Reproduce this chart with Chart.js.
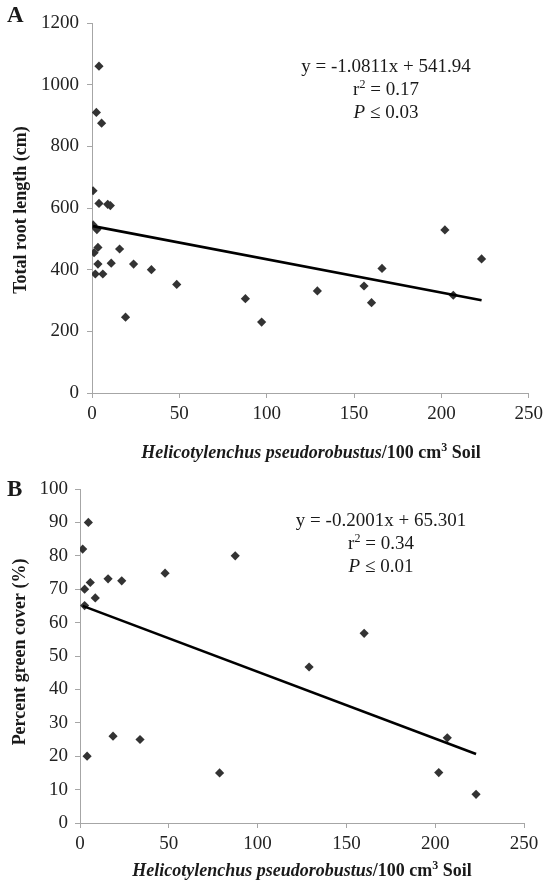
<!DOCTYPE html>
<html>
<head>
<meta charset="utf-8">
<script src="https://cdn.jsdelivr.net/npm/chart.js@4.4.1/dist/chart.umd.min.js"></script>
<style>
html, body { margin: 0; padding: 0; background: #fff; }
#boxA { position: relative; width: 548px; height: 462px; }
#boxB { position: relative; width: 548px; height: 426px; }
</style>
</head>
<body>
<div id="boxA"><canvas id="rootLength"></canvas></div>
<div id="boxB"><canvas id="greenCover"></canvas></div>
<script>
// A - total root length vs nematodes
var rootX = [4, 2.5, 5.5, 0.6, 4, 9, 10.5, 0.6, 2.8, 3.4, 1.2, 15.8, 3.4, 11, 23.8, 1.9, 6.2, 34, 48.5, 19.2, 87.8, 97.1, 129, 155.7, 160, 166, 202, 206.8, 223];
var rootY = [1060, 910, 875, 656, 615, 612, 608, 545, 530, 472, 455, 467, 418, 421, 418, 386, 386, 400, 352, 246, 306, 230, 331, 347, 293, 404, 529, 317, 435];
var rootFit = [-1.0811, 541.94];

// B - percent green cover vs nematodes
var coverX = [1.5, 4.7, 2.6, 5.8, 8.6, 2.6, 15.8, 23.5, 47.9, 87.4, 18.6, 33.8, 4, 78.6, 129, 160, 206.8, 202, 223];
var coverY = [82, 90, 70, 72, 67.4, 65.1, 73.1, 72.5, 74.8, 80, 26, 25, 20, 15, 46.7, 56.8, 25.5, 15.1, 8.6];
var coverFit = [-0.2001, 65.301];

var xRange = [0, 250, 50];
var rootRange = [0, 1200, 200];
var coverRange = [0, 100, 10];

var SERIF = "'Liberation Serif', 'Times New Roman', serif";
var AXIS = '#a6a6a6';

function points(xs, ys) {
    var out = [];
    for (var i = 0; i < xs.length; i++) out.push({x: xs[i], y: ys[i]});
    return out;
}

function fitLine(xs, fit) {
    var lo = Math.min.apply(null, xs), hi = Math.max.apply(null, xs);
    return [{x: lo, y: fit[0] * lo + fit[1]}, {x: hi, y: fit[0] * hi + fit[1]}];
}

// draw a row of text pieces with mixed fonts, centred on cx
function runs(ctx, parts, cx, cy) {
    var w = 0;
    parts.forEach(function (p) { ctx.font = p.f; w += ctx.measureText(p.t).width; });
    var x = cx - w / 2;
    parts.forEach(function (p) {
        ctx.font = p.f;
        ctx.fillText(p.t, x, cy + (p.dy || 0));
        x += ctx.measureText(p.t).width;
    });
}

var textPlugin = {
    id: 'panelText',
    afterDraw: function (chart, args, o) {
        var ctx = chart.ctx;
        ctx.save();
        ctx.fillStyle = '#1a1a1a';
        ctx.textAlign = 'left';
        ctx.textBaseline = 'middle';

        ctx.font = 'bold 23px ' + SERIF;
        ctx.fillText(o.letter, 7, o.letterY);

        // x title
        runs(ctx, [
            {t: 'Helicotylenchus pseudorobustus', f: 'italic bold 18px ' + SERIF},
            {t: '/100 cm', f: 'bold 18px ' + SERIF},
            {t: '3', f: 'bold 12px ' + SERIF, dy: -5},
            {t: ' Soil', f: 'bold 18px ' + SERIF}
        ], o.xTitle[0], o.xTitle[1]);

        // y title
        ctx.save();
        ctx.translate(o.yTitle[0], o.yTitle[1]);
        ctx.rotate(-Math.PI / 2);
        runs(ctx, [{t: o.yText, f: 'bold 18px ' + SERIF}], 0, 0);
        ctx.restore();

        // regression text
        var reg = '19px ' + SERIF;
        runs(ctx, [{t: o.eq, f: reg}], o.note[0], o.note[1]);
        runs(ctx, [
            {t: 'r', f: reg},
            {t: '2', f: '12px ' + SERIF, dy: -5},
            {t: ' = ' + o.r2, f: reg}
        ], o.note[0], o.note[1] + 23);
        runs(ctx, [
            {t: 'P', f: 'italic ' + reg},
            {t: ' \u2264 ' + o.p, f: reg}
        ], o.note[0], o.note[1] + 46);
        ctx.restore();
    }
};

function plain(v) { return String(v); }

function makeChart(id, xs, ys, fit, yRange, pad, yWidth, xHeight, tickPadX, tickPadY, text) {
    return new Chart(id, {
        type: 'scatter',
        data: {
            datasets: [{
                type: 'line',
                data: fitLine(xs, fit),
                borderColor: '#000',
                borderWidth: 2.6,
                pointRadius: 0,
                fill: false
            }, {
                data: points(xs, ys),
                pointStyle: 'rectRot',
                pointRadius: 4.6,
                backgroundColor: '#333',
                borderWidth: 0
            }]
        },
        options: {
            responsive: true,
            maintainAspectRatio: false,
            animation: false,
            layout: {padding: pad},
            plugins: {legend: {display: false}, tooltip: {enabled: false}, panelText: text},
            scales: {
                x: {
                    type: 'linear',
                    min: xRange[0], max: xRange[1],
                    ticks: {stepSize: xRange[2], autoSkip: false, color: '#222', padding: tickPadX,
                        callback: plain, font: {family: SERIF, size: 19}},
                    grid: {drawOnChartArea: false, color: AXIS, tickLength: 5},
                    border: {color: AXIS},
                    afterFit: function (s) { s.height = xHeight; }
                },
                y: {
                    min: yRange[0], max: yRange[1],
                    ticks: {stepSize: yRange[2], autoSkip: false, color: '#222', padding: tickPadY,
                        callback: plain, font: {family: SERIF, size: 19}},
                    grid: {drawOnChartArea: false, color: AXIS, tickLength: 5},
                    border: {color: AXIS},
                    afterFit: function (s) { s.width = yWidth; }
                }
            }
        },
        plugins: [textPlugin]
    });
}

document.addEventListener('DOMContentLoaded', function () {
    makeChart('rootLength', rootX, rootY, rootFit, rootRange,
        {top: 23, right: 14, left: 0, bottom: 0}, 92, 69, 5, 8, {
            letter: 'A', letterY: 16,
            xTitle: [311, 453], yTitle: [21, 210], yText: 'Total root length (cm)',
            eq: 'y = -1.0811x + 541.94', r2: '0.17', p: '0.03', note: [386, 67]
        });

    makeChart('greenCover', coverX, coverY, coverFit, coverRange,
        {top: 27, right: 24, left: 0, bottom: 0}, 80, 65, 5, 7, {
            letter: 'B', letterY: 28,
            xTitle: [302, 409], yTitle: [20, 190], yText: 'Percent green cover (%)',
            eq: 'y = -0.2001x + 65.301', r2: '0.34', p: '0.01', note: [381, 59]
        });
});
</script>
</body>
</html>
